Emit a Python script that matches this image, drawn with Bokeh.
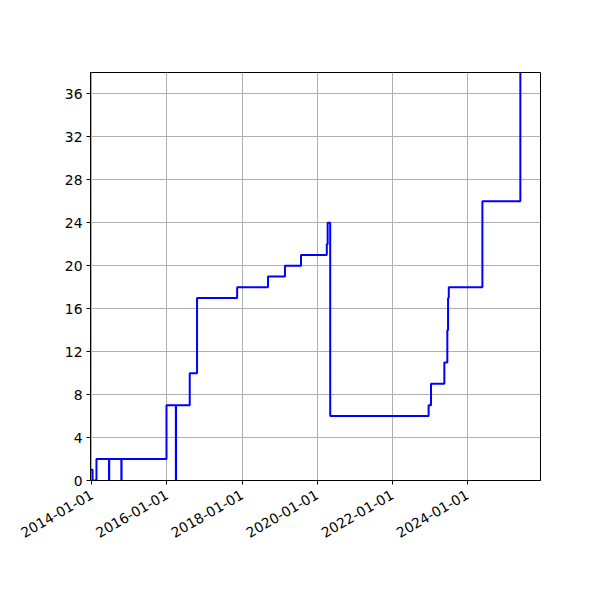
import math
from datetime import datetime
import pandas as pd
from bokeh.plotting import figure
from bokeh.models import Range1d, FixedTicker, DatetimeTickFormatter
from bokeh.embed import file_html
from bokeh.resources import INLINE

# ---- data ----
dates = [
    "2013-12-19", "2014-01-08", "2014-02-15", "2014-06-17", "2014-06-19",
    "2014-10-15", "2014-10-17", "2015-12-28", "2016-03-28", "2016-03-30",
    "2016-08-10", "2016-10-20", "2017-11-14", "2018-09-10", "2019-02-22",
    "2019-07-28", "2020-04-04", "2020-04-12", "2020-05-07", "2022-12-20",
    "2023-01-12", "2023-05-22", "2023-06-20", "2023-06-27", "2023-07-04",
    "2024-05-26", "2025-05-30",
]
values = [
    1, 0, 2, 0, 2,
    0, 2, 7, 0, 7,
    10, 17, 18, 19, 20,
    21, 22, 24, 6, 7,
    9, 11, 14, 17, 18,
    26, 38,
]
x_tick_dates = ["2014-01-01", "2016-01-01", "2018-01-01", "2020-01-01",
                "2022-01-01", "2024-01-01"]
y_ticks = [0, 4, 8, 12, 16, 20, 24, 28, 32, 36]
x_start, x_end = "2013-12-19", "2025-12-12"
y_start, y_end = 0, 38

xs = pd.to_datetime(dates)
tick_ms = [pd.Timestamp(d).value // 10**6 for d in x_tick_dates]

p = figure(
    frame_width=450, frame_height=408,
    min_border_left=90, min_border_top=72, min_border_right=44, min_border_bottom=104,
    x_axis_type="datetime",
    x_range=Range1d(pd.Timestamp(x_start), pd.Timestamp(x_end)),
    y_range=Range1d(y_start, y_end),
    output_backend="svg", toolbar_location=None,
)
p.background_fill_color = "white"
p.border_fill_color = "white"
p.outline_line_color = "black"
p.outline_line_width = 1

p.step(xs, values, mode="after", line_color="#0000ff", line_width=2)

p.xaxis.ticker = FixedTicker(ticks=tick_ms)
fmt = "%Y-%m-%d"
p.xaxis.formatter = DatetimeTickFormatter(
    years=fmt, months=fmt, days=fmt, hours=fmt, minutes=fmt, seconds=fmt,
    milliseconds=fmt, microseconds=fmt, hourmin=fmt, minsec=fmt)
p.xaxis.major_label_orientation = math.pi / 6
p.yaxis.ticker = FixedTicker(ticks=y_ticks)

for ax in (p.xaxis, p.yaxis):
    ax.major_label_text_font = "DejaVu Sans"
    ax.major_label_text_font_size = "13.9px"
    ax.major_label_text_color = "black"
    ax.axis_line_color = "black"
    ax.major_tick_line_color = "black"
    ax.major_tick_out = 4
    ax.major_tick_in = 0
    ax.minor_tick_line_color = None
    ax.major_label_standoff = 4
p.xaxis.major_label_standoff = 9

for g in (p.xgrid, p.ygrid):
    g.grid_line_color = "#b0b0b0"
    g.grid_line_width = 1

open("out.html", "w").write(file_html(p, INLINE))
